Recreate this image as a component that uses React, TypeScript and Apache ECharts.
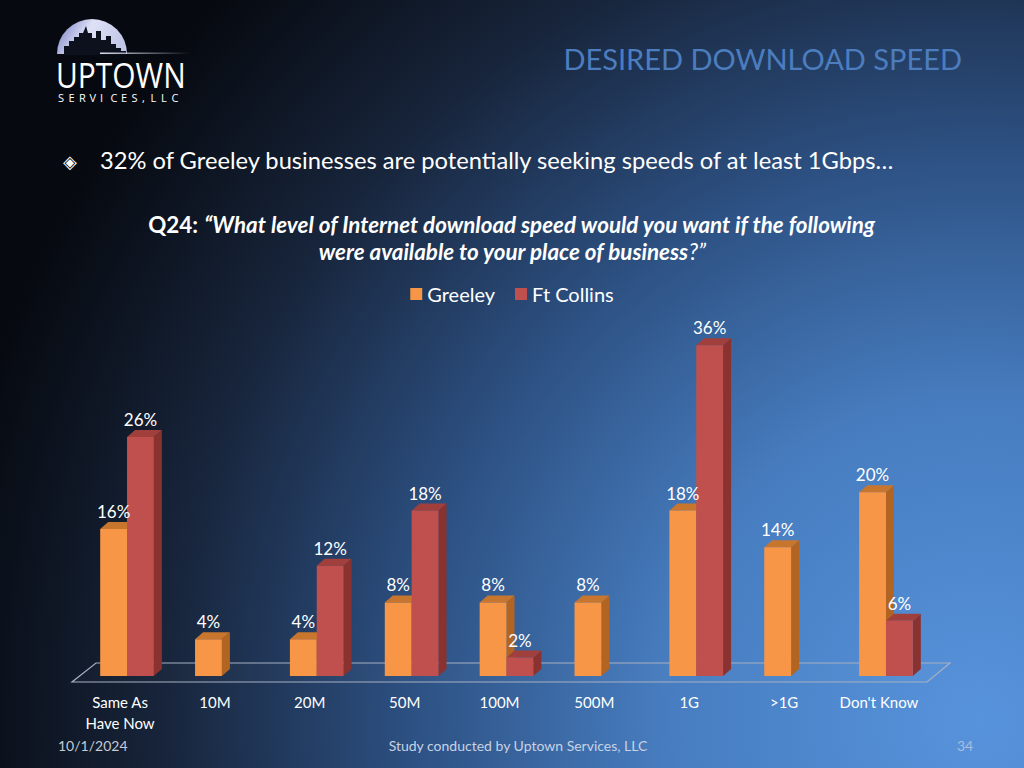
import React, { useEffect, useRef } from "react";
import * as echarts from "echarts";

const categories = ["Same As\nHave Now", "10M", "20M", "50M", "100M", "500M", "1G", ">1G", "Don't Know"];
const greeley: (number | null)[] = [16, 4, 4, 8, 8, 8, 18, 14, 20];
const ftCollins: (number | null)[] = [26, null, 12, 18, 2, null, 36, null, 6];
const seriesNames = ["Greeley", "Ft Collins"];
const yMax = 40;

const FONT = "Lato, 'Open Sans', sans-serif";

function makeRender(slot: number, front: string, top: string, side: string) {
  return (params: any, api: any) => {
    const v = api.value(1);
    if (v === null || v === undefined || isNaN(v)) return null;
    const band = api.size([1, 0])[0];
    const bw = band * 0.283;
    const base = api.coord([api.value(0), 0]);
    const tp = api.coord([api.value(0), v]);
    const x0 = base[0] + (slot === 0 ? -bw : 0);
    const x1 = x0 + bw;
    const yb = base[1];
    const yt = tp[1];
    const dx = 8;
    const dy = -7;
    return {
      type: "group",
      children: [
        { type: "polygon", shape: { points: [[x1, yt], [x1 + dx, yt + dy], [x1 + dx, yb + dy], [x1, yb]] }, style: { fill: side } },
        { type: "polygon", shape: { points: [[x0, yt], [x0 + dx, yt + dy], [x1 + dx, yt + dy], [x1, yt]] }, style: { fill: top } },
        { type: "rect", shape: { x: x0, y: yt, width: bw, height: yb - yt }, style: { fill: front } },
        {
          type: "text",
          z2: 100,
          style: {
            text: v + "%",
            x: (x0 + x1) / 2,
            y: yt - 9,
            align: "center",
            verticalAlign: "bottom",
            fill: "#ffffff",
            fontSize: 17,
            fontFamily: FONT,
          },
        },
      ],
    };
  };
}

function logoElements(): any[] {
  const els: any[] = [];
  els.push({
    type: "sector",
    shape: { cx: 92, cy: 54, r: 35, r0: 0, startAngle: Math.PI, endAngle: Math.PI * 2 },
    style: {
      fill: new echarts.graphic.LinearGradient(0, 0, 1, 0.3, [
        { offset: 0, color: "#6f78c0" },
        { offset: 0.5, color: "#dfe2f6" },
        { offset: 1, color: "#c4c8e8" },
      ]),
    },
  });
  els.push({
    type: "polygon",
    shape: {
      points: [
        [64, 55], [64, 46], [69, 46], [69, 41], [74, 41], [74, 37], [79, 37], [79, 33], [83, 33], [86, 26], [88, 33],
        [92, 33], [92, 38], [96, 38], [96, 31], [101, 31], [101, 40], [106, 40], [106, 36], [111, 36], [111, 44],
        [116, 44], [116, 48], [121, 48], [121, 51], [126, 51], [126, 55],
      ],
    },
    style: { fill: "#0c111d" },
  });
  els.push({
    type: "rect",
    shape: { x: 100, y: 52.5, width: 90, height: 1.5 },
    style: {
      fill: new echarts.graphic.LinearGradient(0, 0, 1, 0, [
        { offset: 0, color: "rgba(230,232,250,0.95)" },
        { offset: 1, color: "rgba(230,232,250,0)" },
      ]),
    },
  });
  els.push({
    type: "text",
    x: 56,
    y: 75,
    scaleX: 0.88,
    style: {
      text: "UPTOWN",
      x: 0,
      y: 0,
      fill: "#ffffff",
      fontSize: 34,
      fontFamily: "'Open Sans', sans-serif",
      verticalAlign: "middle",
    },
  });
  const small = "SERVICES,LLC";
  for (let i = 0; i < small.length; i++) {
    els.push({
      type: "text",
      style: {
        text: small[i],
        x: 58 + i * 10.5 - (i > 8 ? 2 : 0),
        y: 97,
        fill: "#ffffff",
        fontSize: 11,
        fontFamily: "'Open Sans', sans-serif",
        verticalAlign: "middle",
      },
    });
  }
  return els;
}

export default function App() {
  const ref = useRef<HTMLDivElement>(null);
  useEffect(() => {
    if (!ref.current) return;
    const chart = echarts.init(ref.current, undefined, { renderer: "svg" });
    const option: any = {
      animation: false,
      graphic: [
        {
          type: "rect",
          silent: true,
          shape: { x: 0, y: 0, width: 1024, height: 768 },
          style: {
            fill: new echarts.graphic.RadialGradient(980, 720, 1050, [
              { offset: 0, color: "#5793dc" },
              { offset: 0.3, color: "#477dc0" },
              { offset: 0.55, color: "#2c4f80" },
              { offset: 0.78, color: "#17243a" },
              { offset: 1, color: "#06090f" },
            ], true),
          },
        },
        {
          type: "polygon",
          silent: true,
          shape: { points: [[72, 682], [927, 682], [950, 663], [96, 663]] },
          style: { fill: "rgba(255,255,255,0.02)", stroke: "#a6b0c2", lineWidth: 1.2 },
        },
        ...logoElements(),
        {
          type: "text",
          style: {
            text: "DESIRED DOWNLOAD SPEED",
            x: 962,
            y: 58,
            align: "right",
            verticalAlign: "middle",
            fill: "#4c7dbf",
            fontSize: 29,
            fontFamily: FONT,
          },
        },
        {
          type: "text",
          style: {
            text: "◈",
            x: 70,
            y: 161,
            align: "center",
            verticalAlign: "middle",
            fill: "#ffffff",
            fontSize: 18,
            fontFamily: "'DejaVu Sans', sans-serif",
          },
        },
        {
          type: "text",
          style: {
            text: "32% of Greeley businesses are potentially seeking speeds of at least 1Gbps…",
            x: 100,
            y: 160,
            verticalAlign: "middle",
            fill: "#ffffff",
            fontSize: 23.7,
            fontFamily: FONT,
          },
        },
        {
          type: "text",
          style: {
            text:
              "{a|Q24: }{b|“What level of Internet download speed would you want if the following}\n{b|were available to your place of business}{c|?”}",
            x: 512,
            y: 211,
            align: "center",
            verticalAlign: "top",
            rich: {
              a: { fill: "#ffffff", fontSize: 22.4, fontWeight: "bold", fontFamily: FONT, lineHeight: 27 },
              b: { fill: "#ffffff", fontSize: 22.4, fontWeight: "bold", fontStyle: "italic", fontFamily: FONT, lineHeight: 27 },
              c: { fill: "#ffffff", fontSize: 22.4, fontStyle: "italic", fontFamily: FONT, lineHeight: 27 },
            },
          },
        },
        {
          type: "text",
          style: { text: "10/1/2024", x: 58, y: 745, verticalAlign: "middle", fill: "#c3cad8", fontSize: 14, fontFamily: FONT },
        },
        {
          type: "text",
          style: {
            text: "Study conducted by Uptown Services, LLC",
            x: 518,
            y: 745,
            align: "center",
            verticalAlign: "middle",
            fill: "#c8d2e4",
            fontSize: 14,
            fontFamily: FONT,
          },
        },
        {
          type: "text",
          style: { text: "34", x: 965, y: 745, align: "center", verticalAlign: "middle", fill: "#a9bde0", fontSize: 14, fontFamily: FONT },
        },
      ],
      legend: {
        top: 279,
        left: "center",
        icon: "rect",
        itemWidth: 12,
        itemHeight: 12,
        itemGap: 20,
        data: seriesNames,
        textStyle: { color: "#ffffff", fontSize: 20, fontFamily: FONT },
      },
      grid: { left: 79.6, right: 90.6, top: 308.4, bottom: 92, containLabel: false },
      xAxis: {
        type: "category",
        data: categories,
        axisLine: { show: false },
        axisTick: { show: false },
        splitLine: { show: false },
        axisLabel: {
          color: "#ffffff",
          fontSize: 15,
          fontFamily: FONT,
          interval: 0,
          margin: 15,
          lineHeight: 21,
          padding: [0, 14, 0, 0],
        },
      },
      yAxis: { type: "value", min: 0, max: yMax, show: false, splitLine: { show: false } },
      series: [
        {
          name: seriesNames[0],
          type: "custom",
          itemStyle: { color: "#f79646" },
          encode: { x: 0, y: 1 },
          data: greeley.map((v, i) => [i, v]),
          renderItem: makeRender(0, "#f79646", "#c8762d", "#b26522"),
        },
        {
          name: seriesNames[1],
          type: "custom",
          itemStyle: { color: "#c0504d" },
          encode: { x: 0, y: 1 },
          data: ftCollins.map((v, i) => [i, v]),
          renderItem: makeRender(1, "#c0504d", "#a13f3c", "#8a3230"),
        },
      ],
    };
    chart.setOption(option);
    return () => chart.dispose();
  }, []);
  return <div ref={ref} style={{ position: "absolute", left: 0, top: 0, width: 1024, height: 768 }} />;
}
